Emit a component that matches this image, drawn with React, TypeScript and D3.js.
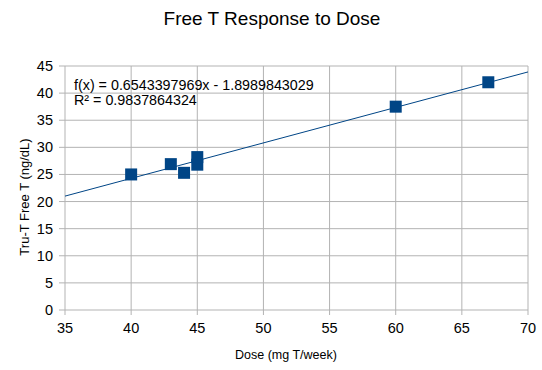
import React from "react";
import * as d3 from "d3";

const doses = [40, 43, 44, 45, 45, 60, 67];
const freeT = [25, 26.9, 25.3, 26.8, 28.2, 37.5, 42];
const slope = 0.6543397969;
const intercept = -1.8989843029;
const xTicks = [35, 40, 45, 50, 55, 60, 65, 70];
const yTicks = [0, 5, 10, 15, 20, 25, 30, 35, 40, 45];
const eqText = "f(x) = 0.6543397969x - 1.8989843029";
const r2Text = "R² = 0.9837864324";

export default function App() {
  const W = 542, H = 370;
  const left = 65, right = 528, top = 66, bottom = 310;
  const x = d3.scaleLinear().domain([35, 70]).range([left, right]);
  const y = d3.scaleLinear().domain([0, 45]).range([bottom, top]);
  const grid = "#b3b3b3";
  const col = "#004586";
  const font = "'Liberation Sans', Arial, sans-serif";
  const line = d3.line<number>().x((d) => x(d)).y((d) => y(slope * d + intercept));
  const ms = 12;
  return (
    <svg width={W} height={H} style={{ position: "absolute", left: 0, top: 0 }} fontFamily={font}>
      <rect width={W} height={H} fill="#fff" />
      <text x={272} y={25} textAnchor="middle" fontSize={19}>Free T Response to Dose</text>
      {yTicks.map((t) => (
        <g key={"y" + t}>
          <line x1={left - 6} x2={right} y1={y(t)} y2={y(t)} stroke={grid} strokeWidth={1} />
          <text x={left - 12} y={y(t) + 5} textAnchor="end" fontSize={14.5}>{t}</text>
        </g>
      ))}
      {xTicks.map((t) => (
        <g key={"x" + t}>
          <line x1={x(t)} x2={x(t)} y1={top} y2={bottom + 5} stroke={grid} strokeWidth={1} />
          <text x={x(t)} y={bottom + 23} textAnchor="middle" fontSize={14.5}>{t}</text>
        </g>
      ))}
      <path d={line([35, 70]) || ""} stroke={col} strokeWidth={1} fill="none" />
      {doses.map((d, i) => (
        <rect key={i} x={x(d) - ms / 2} y={y(freeT[i]) - ms / 2} width={ms} height={ms} fill={col} />
      ))}
      <text x={74} y={90} fontSize={14.3}>{eqText}</text>
      <text x={74} y={105} fontSize={14.3}>{r2Text}</text>
      <text x={286} y={359} textAnchor="middle" fontSize={12.5}>Dose (mg T/week)</text>
      <text transform={`translate(29,197) rotate(-90)`} textAnchor="middle" fontSize={13}>Tru-T Free T (ng/dL)</text>
    </svg>
  );
}
